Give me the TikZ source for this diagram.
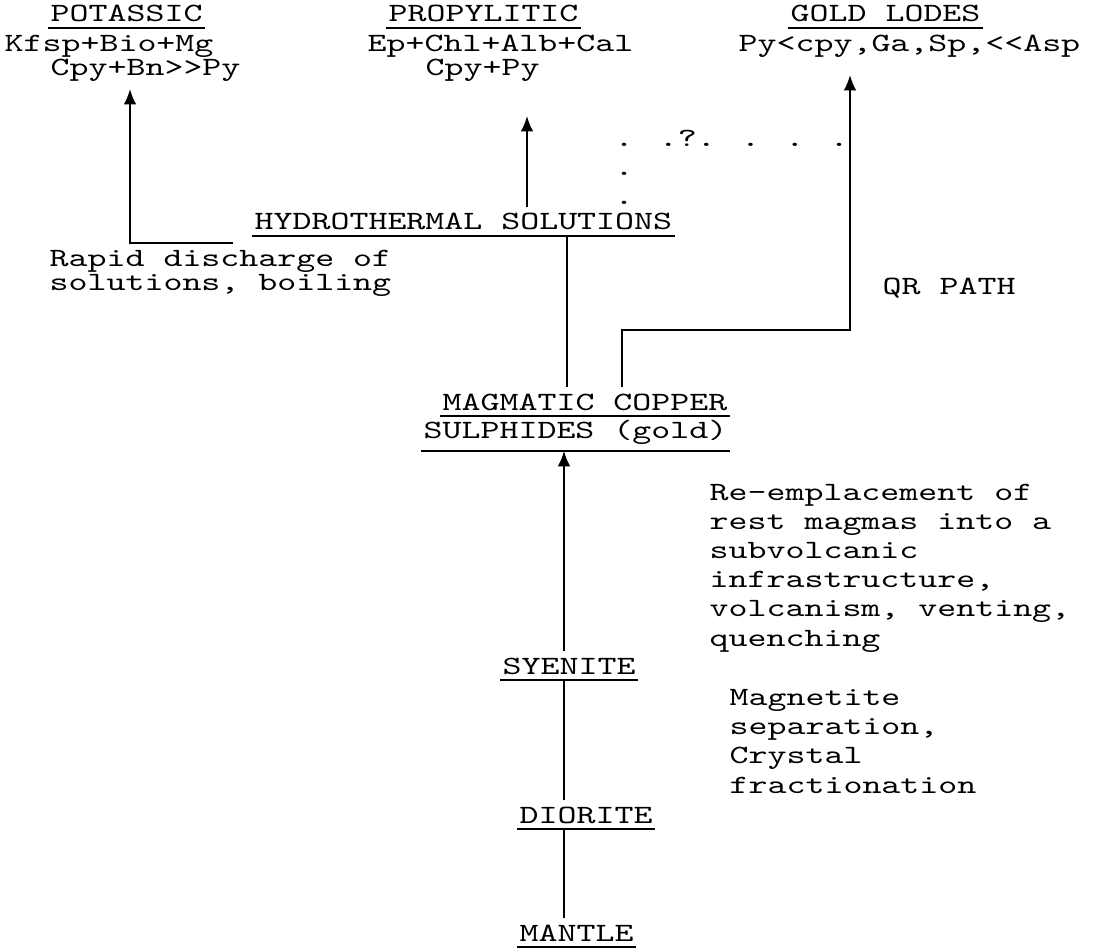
\documentclass[tikz,border=0pt]{standalone}
\usepackage{fontspec}
\usetikzlibrary{arrows.meta}
\newfontfamily\typew[FakeStretch=1.37]{lmmono10-regular.otf}

\begin{document}
\begin{tikzpicture}[x=0.01cm,y=-0.01cm,line width=0.55pt,
    every node/.style={font=\typew\fontsize{7.5}{7.1}\selectfont,inner xsep=0.5pt,inner ysep=1.5pt,anchor=base west},
    head/.style={text depth=0pt,append after command={(\tikzlastnode.south west) edge (\tikzlastnode.south east)}},
    wide/.style={align=left,font=\typew\fontsize{7.5}{8.3}\selectfont},
    feed/.style={-{Latex[length=4.4pt,width=3.6pt]}}]
  \useasboundingbox (0,0) rectangle (1097,949);
  % alteration types
  \node[head] (pot) at (48,22) {POTASSIC};
  \node (pot1) at (2,52) {Kfsp+Bio+Mg};
  \node (pot2) at (48,76) {Cpy+Bn>>Py};
  \node[head] (prop) at (386,22) {PROPYLITIC};
  \node (prop1) at (365,52) {Ep+Chl+Alb+Cal};
  \node (prop2) at (423,76) {Cpy+Py};
  \node[head] (gold) at (788,22) {GOLD LODES};
  \node (gold1) at (736,52) {Py<cpy,Ga,Sp,<<Asp};
  % multi-line nodes sit on the baseline of their last line
  \node[wide] (query) at (612,205) {. .?. . . .\\.\\.};
  % solutions
  \node[head] (hydro) at (252,230) {HYDROTHERMAL SOLUTIONS};
  \node[align=left] (rapid) at (47,291) {Rapid discharge of\\solutions, boiling};
  \node (qr) at (880,295) {QR PATH};
  % magmatic column
  \node[head] (magm) at (440,410) {MAGMATIC COPPER};
  \node[head,text depth=1.6pt] (sulph) at (421,439) {SULPHIDES (gold)};
  \node[wide] (empl) at (707,646) {Re-emplacement of\\rest magmas into a\\subvolcanic\\infrastructure,\\volcanism, venting,\\quenching};
  \node[head] (syen) at (500,674) {SYENITE};
  \node[wide] (sep) at (727,793) {Magnetite\\separation,\\Crystal\\fractionation};
  \node[head] (dior) at (517,823) {DIORITE};
  \node[head] (mant) at (517,941) {MANTLE};
  % connectors
  \coordinate (potfoot) at (233,243);
  \coordinate (pottip) at (130,89);
  \coordinate (proptip) at (527,116);
  \coordinate (axis) at (567,0);
  \coordinate (qrfoot) at (622,0);
  \coordinate (qrbend) at (850,330);
  \coordinate (goldtip) at (850,75);
  \coordinate (stem) at (564,0);
  \draw[feed] (potfoot) -| (pottip);
  \draw[feed] (hydro.north -| proptip) -- (proptip);
  \draw (hydro.south -| axis) -- (magm.north -| axis);
  \draw[feed] (magm.north -| qrfoot) |- (qrbend) -- (goldtip);
  \draw[feed] (syen.north -| stem) -- (sulph.south -| stem);
  \draw (dior.north -| stem) -- (syen.south -| stem);
  \draw (mant.north -| stem) -- (dior.south -| stem);
\end{tikzpicture}
\end{document}
